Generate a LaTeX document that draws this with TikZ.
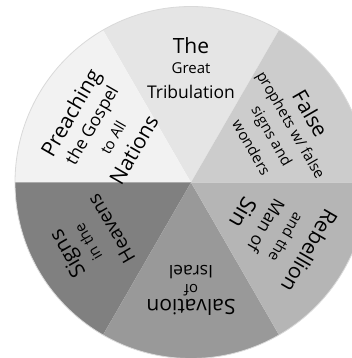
\documentclass[tikz,border=0pt]{standalone}
\usepackage{fontspec}
\setmainfont{Open Sans}
\definecolor{topgray}{gray}{0.90}
\definecolor{ulgray}{gray}{0.95}
\definecolor{urgray}{gray}{0.80}
\definecolor{lrgray}{gray}{0.71}
\definecolor{botgray}{gray}{0.60}
\definecolor{llgray}{gray}{0.50}
\begin{document}
\begin{tikzpicture}[x=1pt, y=1pt,
    big/.style={inner sep=0pt, font=\fontsize{21}{21}\selectfont},
    mid/.style={inner sep=0pt, font=\fontsize{17.5}{17.5}\selectfont},
    small/.style={inner sep=0pt, font=\fontsize{15}{15}\selectfont}]
    \useasboundingbox (-191,-175.5) rectangle (161,182.5);

    % Draw sectors
    \fill[topgray] (0,0) -- (60:176) arc (60:120:176) -- cycle;
    \fill[ulgray] (0,0) -- (120:176) arc (120:180:176) -- cycle;
    \fill[llgray] (0,0) -- (180:176) arc (180:240:176) -- cycle;
    \fill[botgray] (0,0) -- (240:176) arc (240:300:176) -- cycle;
    \fill[lrgray] (0,0) -- (300:176) arc (300:360:176) -- cycle;
    \fill[urgray] (0,0) -- (0:176) arc (0:60:176) -- cycle;
    \draw[gray!30, line width=0.8pt] (0,0) circle (176);

    % Top sector
    \node[big] (the) at (90:137) {The};
    \node[small] (great) at (90:114) {Great};
    \node[mid] (tribulation) at (90:91) {Tribulation};

    % Upper left sector
    \node[big, rotate=60] (preaching) at (150:137) {Preaching};
    \node[mid, rotate=60] (gospel) at (150:113) {the Gospel};
    \node[small, rotate=60] (toall) at (150:90) {to All};
    \node[big, rotate=60] (nations) at (150:66) {Nations};

    % Upper right sector
    \node[big, rotate=-60] (false) at (30:138) {False};
    \node[small, rotate=-60] (prophets) at (30:114) {prophets w/ false};
    \node[small, rotate=-60] (signsand) at (30:92) {signs and};
    \node[small, rotate=-60] (wonders) at (30:70) {wonders};

    % Lower right sector
    \node[big, rotate=240] (rebellion) at (330:137) {Rebellion};
    \node[small, rotate=240] (andthe) at (330:110) {and the};
    \node[mid, rotate=240] (manof) at (330:87) {Man of};
    \node[big, rotate=240, font=\fontsize{22.5}{22.5}\selectfont] (sin) at (330:61) {Sin};

    % Bottom sector
    \node[big, rotate=180] (salvation) at (270:125) {Salvation};
    \node[small, rotate=180] (of) at (270:108) {of};
    \node[mid, rotate=180] (israel) at (270:90) {Israel};

    % Lower left sector
    \node[big, rotate=120] (signs) at (210:141) {Signs};
    \node[small, rotate=120] (inthe) at (210:119) {in the};
    \node[mid, rotate=120, font=\fontsize{19}{19}\selectfont] (heavens) at (210:92) {Heavens};
\end{tikzpicture}
\end{document}
